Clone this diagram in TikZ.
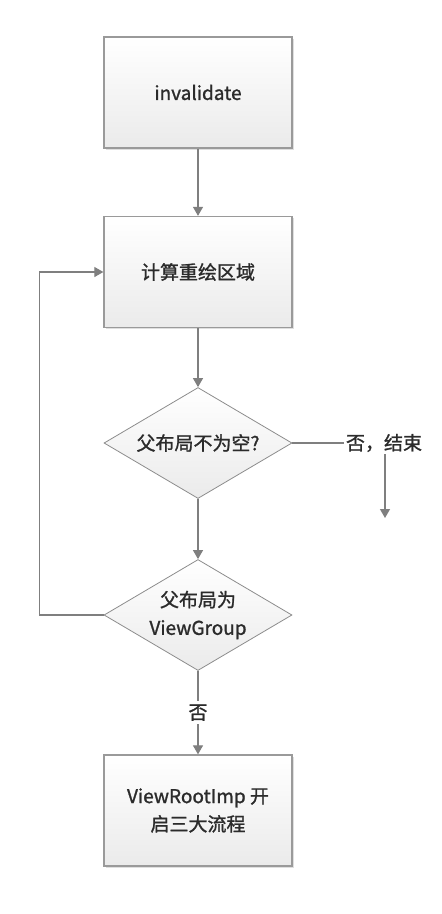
\documentclass[tikz,border=0pt]{standalone}
\usepackage{fontspec}
\setmainfont{Noto Sans CJK SC}[FakeBold=1.2]
\usetikzlibrary{shapes.geometric,arrows.meta,shadows}
\definecolor{linec}{HTML}{7F7F7F}
\definecolor{borderc}{HTML}{9A9A9A}
\definecolor{txtc}{HTML}{2B2B2B}
\begin{document}
\begin{tikzpicture}[x=1pt,y=1pt,
 box/.style={draw=borderc, line width=1.3pt, top color=white, bottom color=black!8,
   minimum width=188pt, minimum height=111pt, align=center, text=txtc,
   font=\fontsize{19}{28}\selectfont,
   drop shadow={shadow xshift=1.5pt, shadow yshift=-1.5pt, fill=black!25, opacity=0.5}},
 dia/.style={draw=black!45, line width=0.8pt, diamond, top color=white, bottom color=black!8,
   minimum width=188pt, minimum height=111pt, inner sep=0pt},
 lbl/.style={text=txtc, font=\fontsize{19}{28}\selectfont, align=center},
 arr/.style={draw=linec, line width=1.2pt, -{Triangle[width=10pt,length=9pt]}},
 ln/.style={draw=linec, line width=1.2pt}
]
\useasboundingbox (0,0) rectangle (442,-914);
\node[box] (b1) at (198,-92.5) {invalidate};
\node[box] (b2) at (198,-272) {计算重绘区域};
\node[dia] (d1) at (198,-443) {};
\node[lbl] (t1) at (d1.center) {父布局不为空?};
\node[dia] (d2) at (198,-615) {};
\node[lbl] (t2) at (d2.center) {父布局为\\ViewGroup};
\node[box] (b3) at (198,-810.5) {ViewRootImp 开\\启三大流程};
\node[lbl, inner sep=2pt] (e) at (384,-443) {否，结束};
\coordinate (eend) at (385,-518);

\draw[arr] (b1.south) -- (d1.north |- b2.north);
\draw[arr] (b2.south) -- (d1.north);
\draw[arr] (d1.south) -- (d2.north);
\draw[ln] (d1.east) -- (e.west);
\draw[arr] (e.south -| eend) -- (eend);
\draw[arr] (d2.west) -- ++(-64,0) |- (b2.west);
\draw[arr] (d2.south) -- node[lbl, fill=white, inner sep=3pt] (no) {否} (b3.north);
\end{tikzpicture}
\end{document}
